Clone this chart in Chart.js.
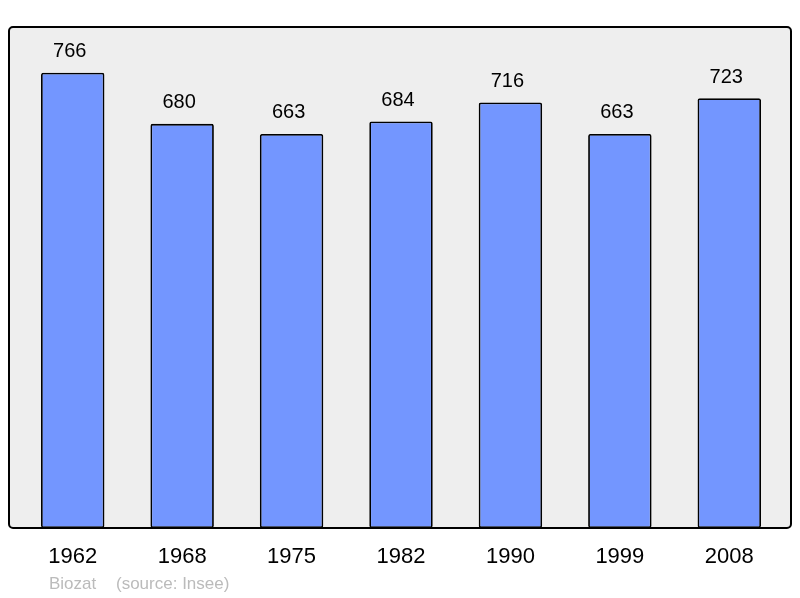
<!DOCTYPE html>
<html>
<head>
<meta charset="utf-8">
<script src="https://cdn.jsdelivr.net/npm/chart.js@4/dist/chart.umd.min.js"></script>
<style>
  html, body { margin: 0; padding: 0; background: #ffffff; }
  #graficoPop { display: block; }
</style>
</head>
<body>
<canvas id="graficoPop" width="800" height="598"></canvas>
<script>
// Dados da população (Insee)
const anos = ['1962', '1968', '1975', '1982', '1990', '1999', '2008'];
const populacao = [766, 680, 663, 684, 716, 663, 723];
const comuna = 'Biozat';
const fonte = '(source: Insee)';

const fonteTexto = '"Liberation Sans", Arial, sans-serif';

// Fundo cinza do quadro e borda arredondada
const quadro = {
  id: 'quadro',
  beforeDatasetsDraw(chart) {
    const ctx = chart.ctx;
    ctx.save();
    ctx.fillStyle = '#eeeeee';
    ctx.beginPath();
    ctx.roundRect(9, 27, 782, 501, 4);
    ctx.fill();
    ctx.restore();
  },
  afterDatasetsDraw(chart) {
    const ctx = chart.ctx;
    ctx.save();
    ctx.strokeStyle = '#000000';
    ctx.lineWidth = 2;
    ctx.beginPath();
    ctx.roundRect(9, 27, 782, 501, 4);
    ctx.stroke();

    // Valores acima das barras
    const meta = chart.getDatasetMeta(0);
    ctx.fillStyle = '#000000';
    ctx.font = '20px ' + fonteTexto;
    ctx.textAlign = 'center';
    ctx.textBaseline = 'middle';
    meta.data.forEach((barra, i) => {
      ctx.fillText(String(populacao[i]), barra.x - 3, barra.y - 21);
    });

    // Rodapé
    ctx.fillStyle = '#bbbbbb';
    ctx.font = '17px ' + fonteTexto;
    ctx.textAlign = 'left';
    ctx.fillText(comuna, 49, 584);
    ctx.fillText(fonte, 116, 584);
    ctx.restore();
  }
};

const ctx = document.getElementById('graficoPop').getContext('2d');
new Chart(ctx, {
  type: 'bar',
  data: {
    labels: anos,
    datasets: [{
      data: populacao,
      backgroundColor: '#7396ff',
      borderColor: '#000000',
      borderWidth: 1.8,
      borderRadius: 2,
      borderSkipped: false,
      categoryPercentage: 1,
      barPercentage: 0.58
    }]
  },
  options: {
    responsive: false,
    animation: false,
    devicePixelRatio: 1,
    layout: { padding: { left: 18, right: 16, top: 27, bottom: 0 } },
    plugins: {
      legend: { display: false },
      tooltip: { enabled: false }
    },
    scales: {
      y: {
        display: false,
        min: 0,
        max: 843
      },
      x: {
        grid: { display: false },
        border: { display: false },
        ticks: {
          color: '#000000',
          padding: 8,
          font: { family: fonteTexto, size: 22 }
        },
        afterFit(scale) { scale.height = 70; }
      }
    }
  },
  plugins: [quadro]
});
</script>
</body>
</html>
